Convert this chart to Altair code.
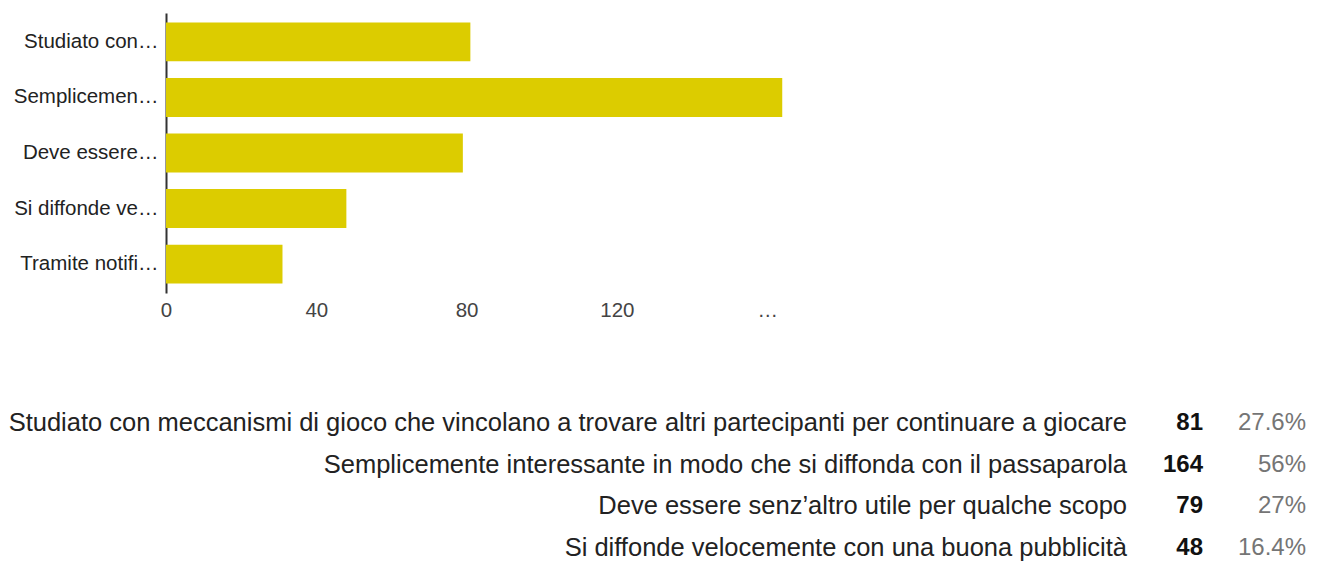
import altair as alt
import pandas as pd

# Chart data (bar chart)
short_labels = ["Studiato con…", "Semplicemen…", "Deve essere…", "Si diffonde ve…", "Tramite notifi…"]
counts = [81, 164, 79, 48, 31]

# Table data (rows visible below the chart)
full_labels = [
    "Studiato con meccanismi di gioco che vincolano a trovare altri partecipanti per continuare a giocare",
    "Semplicemente interessante in modo che si diffonda con il passaparola",
    "Deve essere senz’altro utile per qualche scopo",
    "Si diffonde velocemente con una buona pubblicità",
]
table_counts = [81, 164, 79, 48]
table_pcts = ["27.6%", "56%", "27%", "16.4%"]

tick_values = [0, 40, 80, 120, 160]

FONT = "Liberation Sans"

bar_df = pd.DataFrame({"label": short_labels, "count": counts})
tab_df = pd.DataFrame({"label": full_labels, "count": table_counts, "pct": table_pcts})

bars = alt.Chart(bar_df).mark_bar(color="#DCCC00").encode(
    y=alt.Y(
        "label:N",
        sort=short_labels,
        scale=alt.Scale(paddingInner=0.3, paddingOuter=0.17),
        axis=alt.Axis(
            title=None, ticks=False, domain=True, domainColor="#333333", domainWidth=2,
            labelFontSize=20.5, labelFont=FONT, labelColor="#222222", labelPadding=8,
            labelLimit=300,
        ),
    ),
    x=alt.X(
        "count:Q",
        scale=alt.Scale(domain=[0, 165], nice=False),
        axis=alt.Axis(
            title=None, values=tick_values, grid=False, ticks=False, domain=False,
            labelExpr="datum.value == 160 ? '…' : datum.label",
            labelFontSize=20.5, labelFont=FONT, labelColor="#444444", labelPadding=7,
            labelFlush=False, labelOverlap=False,
        ),
    ),
).properties(width=620, height=280)

ybase = alt.Y("label:N", sort=full_labels, axis=None, scale=alt.Scale(type="point", padding=0))

t_label = alt.Chart(tab_df).mark_text(
    align="right", baseline="middle", fontSize=25.5, font=FONT, color="#222222"
).encode(y=ybase, x=alt.value(961), text="label:N")

t_count = alt.Chart(tab_df).mark_text(
    align="right", baseline="middle", fontSize=24, font=FONT, fontWeight="bold", color="#111111"
).encode(y=ybase, x=alt.value(1037), text="count:Q")

t_pct = alt.Chart(tab_df).mark_text(
    align="right", baseline="middle", fontSize=24, font=FONT, color="#757575"
).encode(y=ybase, x=alt.value(1140), text="pct:N")

table = alt.layer(t_label, t_count, t_pct).properties(width=1145, height=125)

chart = alt.vconcat(
    bars, table, spacing=130, bounds="flush",
    padding={"left": 0, "top": 5, "right": 5, "bottom": 5},
).configure_view(stroke=None)

chart.save("out.html", embed_options={"renderer": "svg", "actions": False})
